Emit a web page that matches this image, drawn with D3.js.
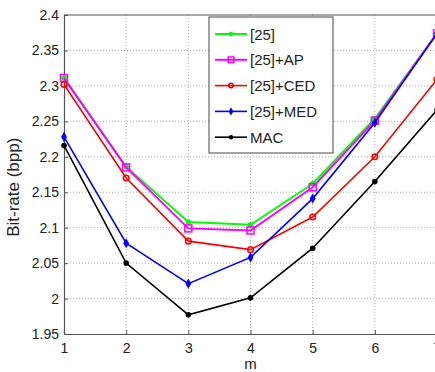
<!DOCTYPE html>
<html>
<head>
<meta charset="utf-8">
<script src="https://cdn.jsdelivr.net/npm/d3@7"></script>
<style>
  body { margin: 0; background: #fff; overflow: hidden; }
  text { font-family: "Liberation Sans", Arial, sans-serif; fill: #222; }
</style>
</head>
<body>
<div id="chart"></div>
<script>
// Data
const mValues = [1, 2, 3, 4, 5, 6, 7];
const yTicks = [1.95, 2, 2.05, 2.1, 2.15, 2.2, 2.25, 2.3, 2.35, 2.4];
const seriesNames = ["[25]", "[25]+AP", "[25]+CED", "[25]+MED", "MAC"];
const base25 = [2.311, 2.186, 2.108, 2.104, 2.162, 2.254, 2.374];
const base25AP = [2.311, 2.185, 2.099, 2.096, 2.157, 2.251, 2.374];
const base25CED = [2.302, 2.170, 2.081, 2.069, 2.115, 2.200, 2.309];
const base25MED = [2.228, 2.078, 2.021, 2.058, 2.141, 2.248, 2.374];
const mac = [2.216, 2.050, 1.977, 2.001, 2.071, 2.165, 2.266];

const seriesValues = [base25, base25AP, base25CED, base25MED, mac];
const colors = ["#00ff00", "#ff00ff", "#ff0000", "#0000ff", "#000000"];
const markers = ["dot", "square", "circle", "diamond", "dot"];

const margin = { top: 15, right: -2, bottom: 38, left: 64 },
    width = 435 - margin.left - margin.right,
    height = 372 - margin.top - margin.bottom;

const svg = d3.select("#chart")
    .append("svg")
    .attr("width", 435)
    .attr("height", 372)
    .append("g")
    .attr("transform", "translate(" + margin.left + "," + margin.top + ")");

const x = d3.scaleLinear().domain([1, 7]).range([0, width]);
const y = d3.scaleLinear().domain([1.95, 2.4]).range([height, 0]);

// Grid
svg.append("g")
    .selectAll("line")
    .data(yTicks.slice(1, -1))
    .enter().append("line")
    .attr("x1", 0).attr("x2", width)
    .attr("y1", d => y(d)).attr("y2", d => y(d))
    .attr("stroke", "#aaa").attr("stroke-dasharray", "1,2");
svg.append("g")
    .selectAll("line")
    .data(mValues.slice(1, -1))
    .enter().append("line")
    .attr("y1", 0).attr("y2", height)
    .attr("x1", d => x(d)).attr("x2", d => x(d))
    .attr("stroke", "#aaa").attr("stroke-dasharray", "1,2");

// Axes
const xAxis = d3.axisBottom(x).tickValues(mValues).tickSize(-4).tickPadding(9).tickFormat(d3.format("d"));
const yAxis = d3.axisLeft(y).tickValues(yTicks).tickSize(-4).tickPadding(5).tickFormat(d => String(+d.toFixed(2)));

const gx = svg.append("g").attr("transform", "translate(0," + height + ")").call(xAxis);
const gy = svg.append("g").call(yAxis);
[gx, gy].forEach(g => {
    g.select(".domain").attr("stroke", "#555").attr("stroke-width", 1.2);
    g.selectAll(".tick line").attr("stroke", "#555");
    g.selectAll("text").style("font-size", "14px").attr("fill", "#222");
});
svg.append("line")
    .attr("x1", 0).attr("x2", width).attr("y1", 0).attr("y2", 0)
    .attr("stroke", "#555").attr("stroke-width", 1.2);

// Axis labels
svg.append("text")
    .attr("x", x(4))
    .attr("y", height + 35)
    .attr("text-anchor", "middle")
    .style("font-size", "15px")
    .text("m");
svg.append("text")
    .attr("transform", "rotate(-90)")
    .attr("x", -(y(2.157)))
    .attr("y", -45)
    .attr("text-anchor", "middle")
    .style("font-size", "17px")
    .text("Bit-rate (bpp)");

function drawMarker(g, type, color, cx, cy, s) {
    s = s || 1;
    if (type === "dot") {
        g.append("circle").attr("cx", cx).attr("cy", cy).attr("r", 2.8 * s).attr("fill", color);
    } else if (type === "square") {
        g.append("rect").attr("x", cx - 3.5 * s).attr("y", cy - 3.5 * s).attr("width", 7 * s).attr("height", 7 * s)
            .attr("fill", "none").attr("stroke", color).attr("stroke-width", 1.5);
    } else if (type === "circle") {
        g.append("circle").attr("cx", cx).attr("cy", cy).attr("r", 2.8 * s)
            .attr("fill", "none").attr("stroke", color).attr("stroke-width", 1.5);
    } else if (type === "diamond") {
        g.append("path").attr("d", d3.symbol(d3.symbolDiamond, 30 * s * s)())
            .attr("transform", "translate(" + cx + "," + cy + ")").attr("fill", color);
    }
}

// Lines (draw in order so later series sit on top)
const line = d3.line().x((d, i) => x(mValues[i])).y(d => y(d));
seriesValues.forEach((vals, k) => {
    const g = svg.append("g");
    g.append("path")
        .datum(vals)
        .attr("fill", "none")
        .attr("stroke", colors[k])
        .attr("stroke-width", k < 2 ? 2 : 1.6)
        .attr("d", line);
    vals.forEach((v, i) => drawMarker(g, markers[k], colors[k], x(mValues[i]), y(v)));
});

// Legend
const legend = svg.append("g").attr("transform", "translate(" + (209 - margin.left) + "," + (17 - margin.top) + ")");
legend.append("rect")
    .attr("width", 124).attr("height", 136)
    .attr("fill", "#fff").attr("stroke", "#666").attr("stroke-width", 1.2);
seriesNames.forEach((name, k) => {
    const ly = 17 + k * 25.8;
    legend.append("line").attr("x1", 6).attr("x2", 38).attr("y1", ly).attr("y2", ly)
        .attr("stroke", colors[k]).attr("stroke-width", k < 2 ? 2 : 1.6);
    drawMarker(legend, markers[k], colors[k], 22, ly, 0.8);
    legend.append("text").attr("x", 41).attr("y", ly + 5.5)
        .style("font-size", "15px").text(name);
});
</script>
</body>
</html>
